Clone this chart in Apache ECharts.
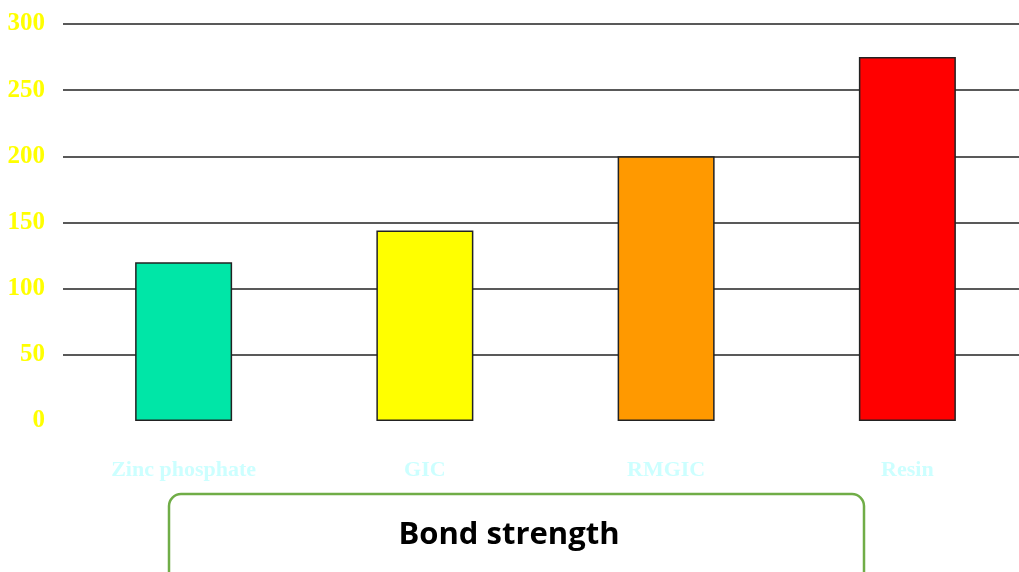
<!DOCTYPE html>
<html>
<head>
<meta charset="utf-8">
<script src="https://cdn.jsdelivr.net/npm/echarts@6/dist/echarts.min.js"></script>
<style>html,body{margin:0;padding:0;background:#fff;}#c{width:1019px;height:572px;}</style>
</head>
<body>
<div id="c"></div>
<script>
const categories = ['Zinc phosphate', 'GIC', 'RMGIC', 'Resin'];
const values = [120, 144, 200, 275];
const barColors = ['#00E6A7', '#FFFF00', '#FF9900', '#FF0000'];
const yTicks = { min: 0, max: 300, interval: 50 };
const titleText = 'Bond strength';

const chart = echarts.init(document.getElementById('c'));
chart.setOption({
  animation: false,
  backgroundColor: '#ffffff',
  grid: { left: 63, top: 24, width: 965, height: 397, containLabel: false, outerBoundsMode: 'none' },
  xAxis: {
    type: 'category',
    data: categories,
    axisLine: { show: false },
    axisTick: { show: false },
    axisLabel: {
      color: '#CCFFFF',
      fontFamily: 'Liberation Serif',
      fontWeight: 'bold',
      fontSize: 22,
      margin: 38
    }
  },
  yAxis: {
    type: 'value',
    min: yTicks.min, max: yTicks.max, interval: yTicks.interval,
    axisLine: { show: false },
    axisTick: { show: false },
    axisLabel: {
      color: '#FFFF00',
      fontFamily: 'Liberation Serif',
      fontWeight: 'bold',
      fontSize: 25,
      margin: 18
    },
    splitLine: {
      show: true,
      showMinLine: false,
      lineStyle: { color: '#222', width: 1.5 }
    }
  },
  series: [{
    type: 'bar',
    barWidth: 97,
    data: values.map((v, i) => ({ value: v, itemStyle: { color: barColors[i] } })),
    itemStyle: { borderColor: '#222', borderWidth: 1.5 }
  }],
  graphic: [
    {
      type: 'rect',
      shape: { x: 169, y: 494, width: 695, height: 100, r: 12 },
      style: { fill: '#fff', stroke: '#70AD47', lineWidth: 2.5 }
    },
    {
      type: 'text',
      x: 509, y: 535,
      style: {
        text: titleText,
        fill: '#000',
        font: 'bold 31px "Open Sans", sans-serif',
        align: 'center',
        verticalAlign: 'middle'
      }
    }
  ]
});
</script>
</body>
</html>
